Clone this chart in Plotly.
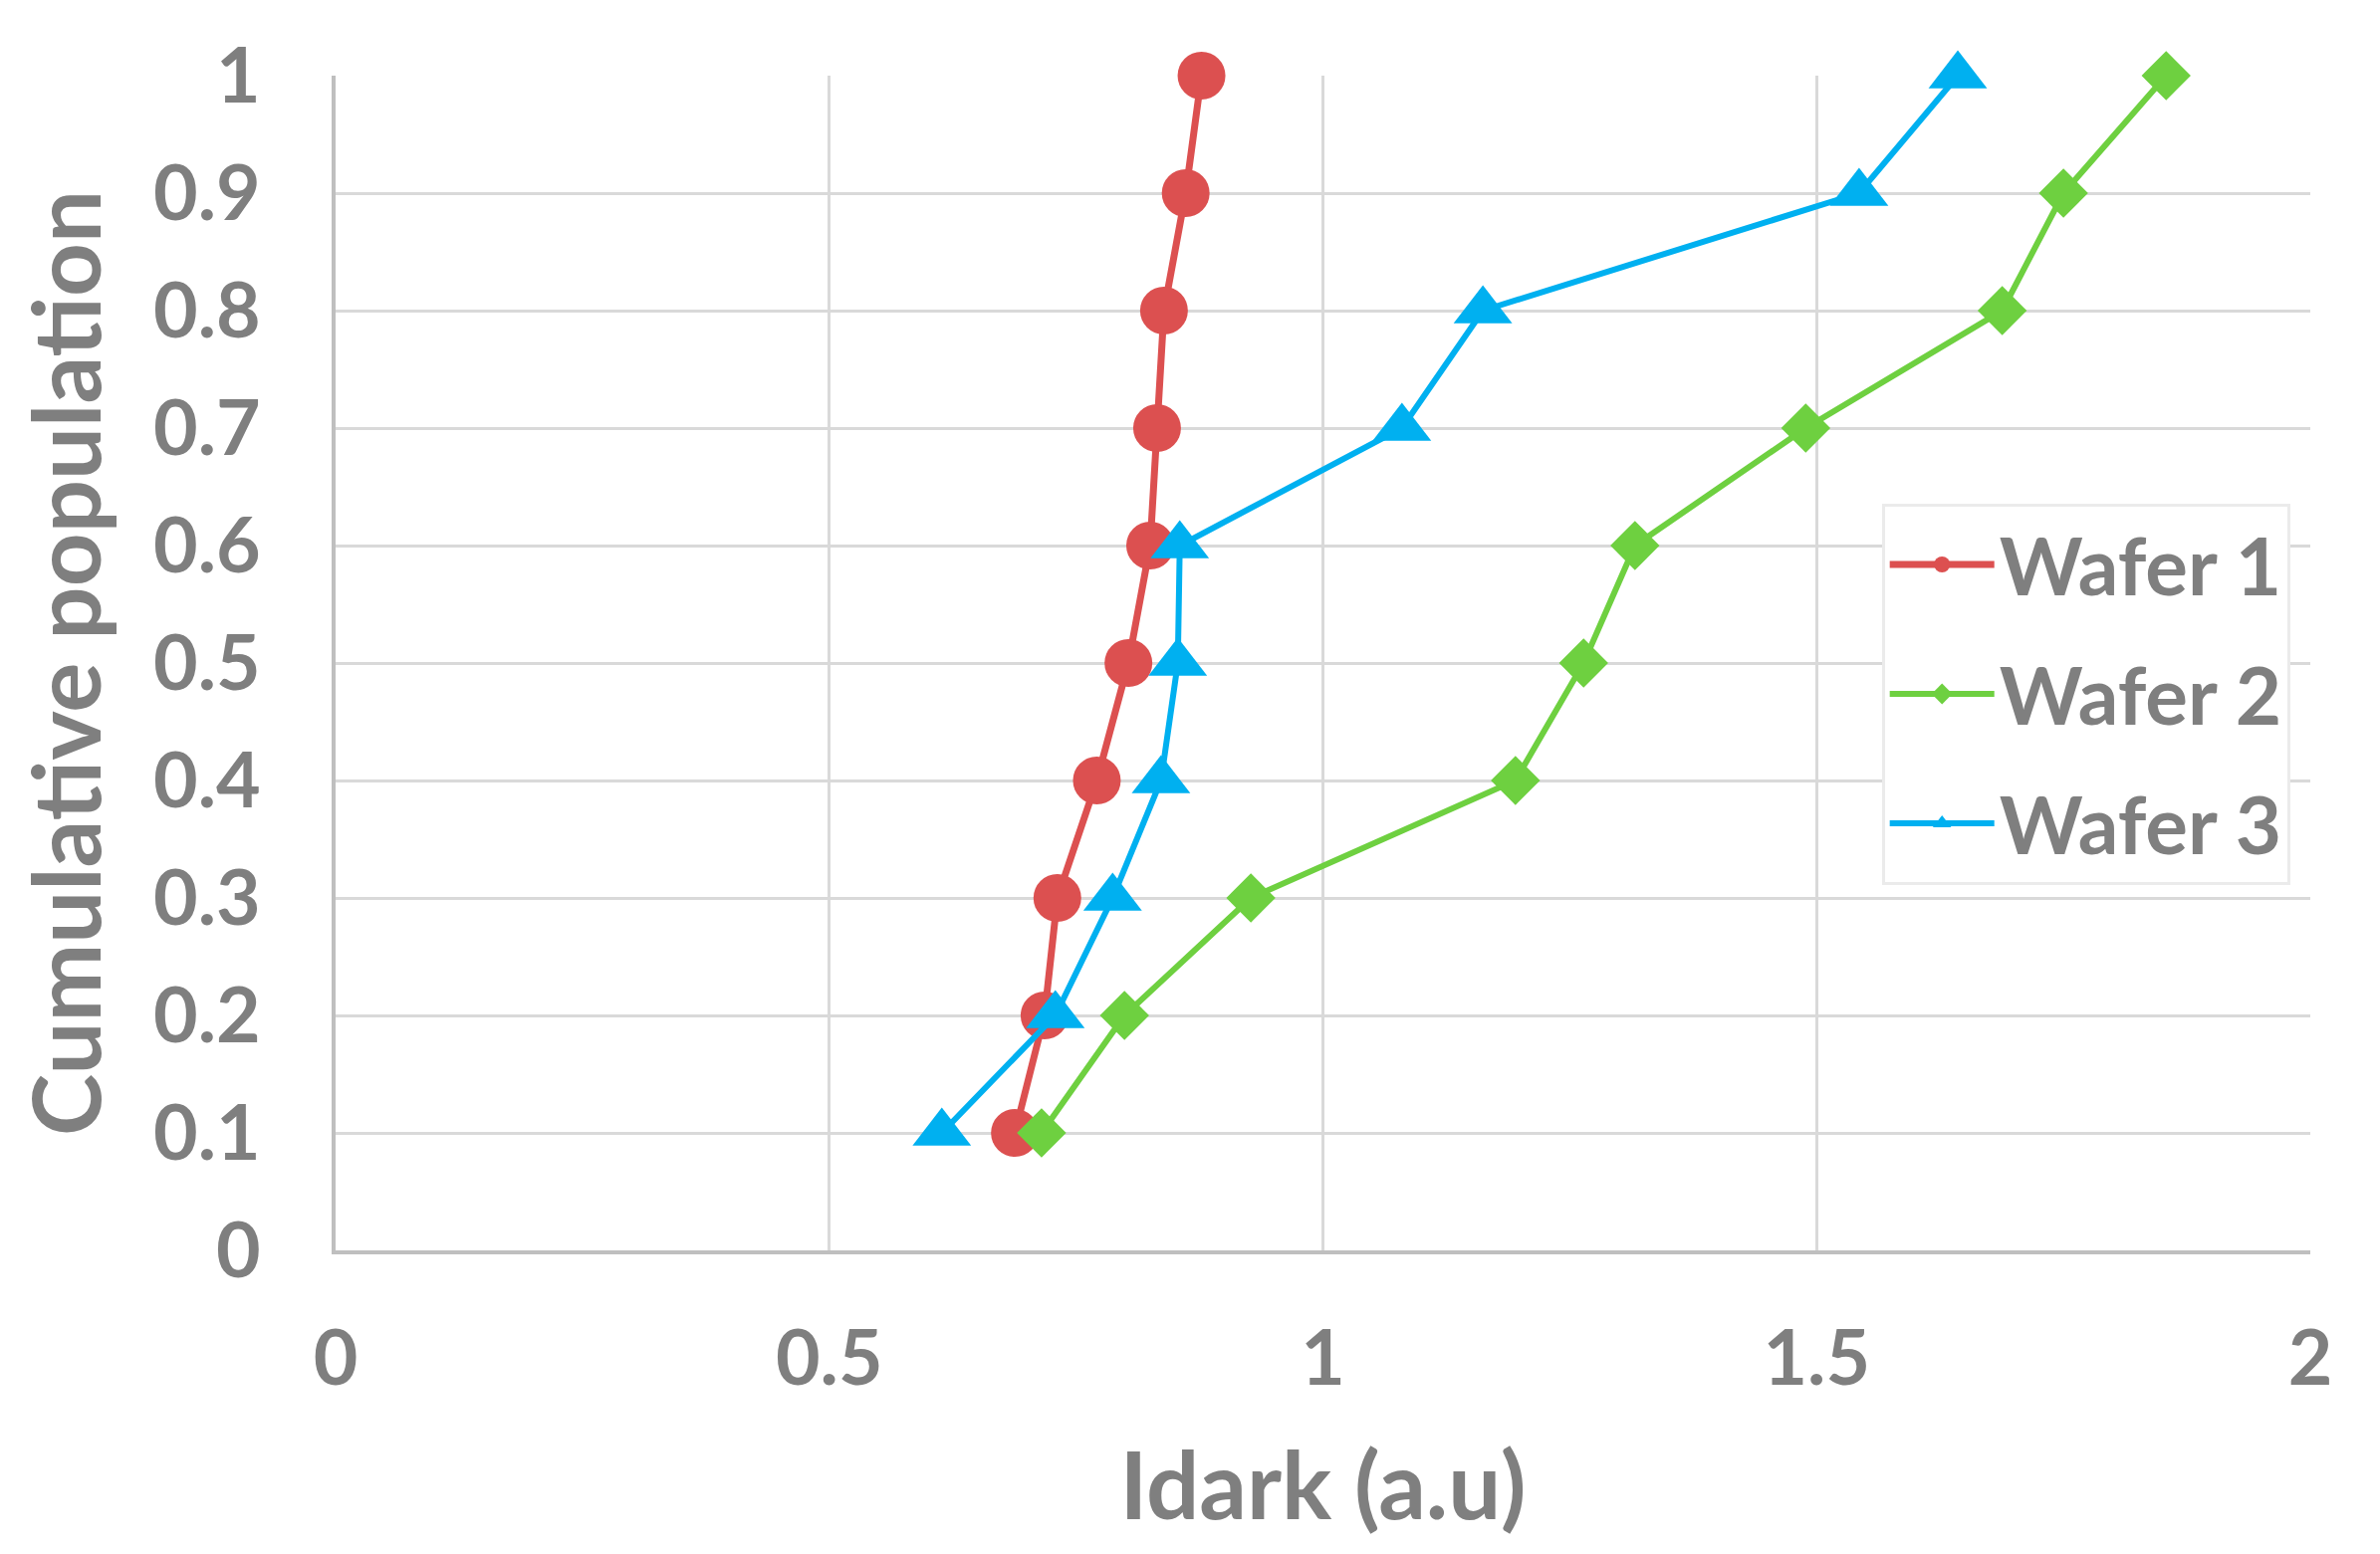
import plotly.graph_objects as go

# ---- data ----
cum_pop = [0.1, 0.2, 0.3, 0.4, 0.5, 0.6, 0.7, 0.8, 0.9, 1.0]
wafer1 = [0.688, 0.718, 0.731, 0.771, 0.803, 0.825, 0.832, 0.839, 0.861, 0.877]
wafer2 = [0.715, 0.799, 0.927, 1.195, 1.264, 1.316, 1.489, 1.688, 1.750, 1.854]
wafer3 = [0.614, 0.729, 0.787, 0.836, 0.853, 0.855, 1.080, 1.162, 1.543, 1.643]
series_names = ["Wafer 1", "Wafer 2", "Wafer 3"]
x_ticks = [0, 0.5, 1, 1.5, 2]
y_ticks = [0, 0.1, 0.2, 0.3, 0.4, 0.5, 0.6, 0.7, 0.8, 0.9, 1]

# ---- styles ----
colors = ["#DC5050", "#6ED040", "#00B0F0"]
symbols = ["circle", "diamond", "triangle-up"]
sizes = [48, 38, 51]
widths = [7, 6, 6]
GRAY = "#7F7F7F"
FONT = "Lato"

fig = go.Figure()
for name, xs, c, s, sz, w in zip(series_names, [wafer1, wafer2, wafer3], colors, symbols, sizes, widths):
    fig.add_trace(go.Scatter(
        x=xs, y=cum_pop, name=name, mode="lines+markers",
        legendgroup=name,
        line=dict(color=c, width=w),
        marker=dict(symbol=s, size=sz, color=c, line=dict(width=0)),
        cliponaxis=False,
    ))

axis_common = dict(
    showgrid=True, gridcolor="#D9D9D9", gridwidth=3,
    zeroline=False, showline=True, linecolor="#BFBFBF", linewidth=4,
    ticks="", tickfont=dict(family=FONT, size=77, color=GRAY, weight="bold"),
)

fig.update_layout(
    width=2382, height=1553,
    margin=dict(l=329, r=70, t=68, b=305),
    plot_bgcolor="white", paper_bgcolor="white",
    font=dict(family=FONT, color=GRAY),
    xaxis=dict(range=[0, 2], tickvals=x_ticks, ticktext=[f"{v:g}" for v in x_ticks],
               ticklabelstandoff=39,
               title=dict(text="Idark (a.u)", standoff=55,
                          font=dict(family=FONT, size=94, color=GRAY, weight="bold")),
               **axis_common),
    yaxis=dict(range=[0, 1], tickvals=y_ticks, ticktext=[f"{v:g}" for v in y_ticks],
               ticklabelstandoff=56,
               title=dict(text="Cumulative population", standoff=30,
                          font=dict(family=FONT, size=94, color=GRAY, weight="bold")),
               **axis_common),
    legend=dict(
        x=0.783, y=0.636, xanchor="left", yanchor="top",
        bgcolor="white", bordercolor="#EBEBEB", borderwidth=3,
        font=dict(family=FONT, size=80, color=GRAY, weight="bold"),
        itemwidth=105, tracegroupgap=23,
    ),
    showlegend=True,
)

fig.write_html("out.html")
